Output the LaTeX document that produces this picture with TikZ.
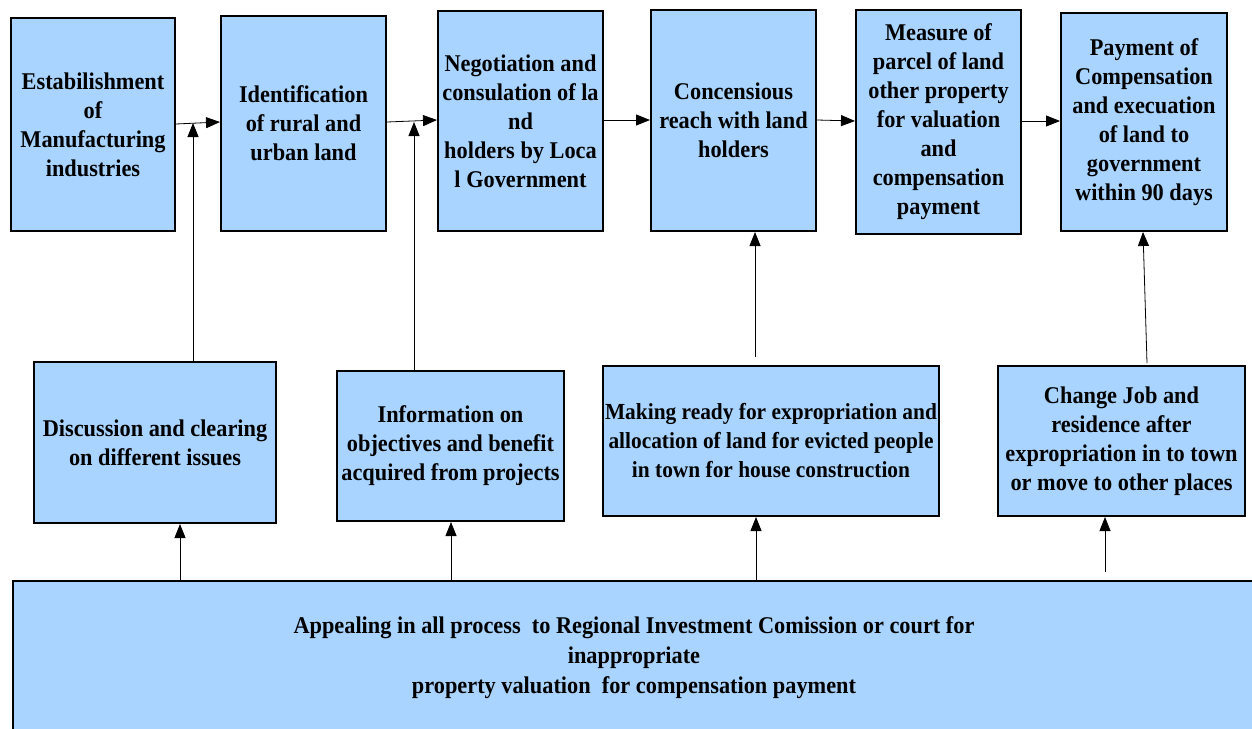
\documentclass[tikz,border=0pt]{standalone}
\usepackage{fontspec}
\setmainfont{Liberation Serif}[FakeStretch=0.93]
\usetikzlibrary{arrows.meta}
\definecolor{boxblue}{RGB}{168,212,255}
\tikzset{
  stage/.style={draw=black,line width=2pt,fill=boxblue,align=center,
    inner sep=0pt,font=\bfseries\fontsize{24}{29}\selectfont,anchor=north west},
  flow/.style={-{Triangle[length=14pt,width=11pt]},line width=0.8pt}
}
\begin{document}
\begin{tikzpicture}[x=1pt,y=-1pt]
\useasboundingbox (0,0) rectangle (1252,728);
% top row
\node[stage,minimum width=164pt,minimum height=213pt] (estab) at (10,17)
  {Estabilishment\\of\\Manufacturing\\industries};
\node[stage,minimum width=165pt,minimum height=215pt] (ident) at (220,15)
  {Identification\\of rural and\\urban land};
\node[stage,minimum width=165pt,minimum height=220pt] (negot) at (437,10)
  {Negotiation and\\consulation of la\\nd\\holders by Loca\\l Government};
\node[stage,minimum width=165pt,minimum height=221pt] (concens) at (650,9)
  {Concensious\\reach with land\\holders};
\node[stage,minimum width=165pt,minimum height=224pt] (measure) at (855,9)
  {Measure of\\parcel of land\\other property\\for valuation\\and\\compensation\\payment};
\node[stage,minimum width=166pt,minimum height=218pt] (pay) at (1060,12)
  {Payment of\\Compensation\\and execuation\\of land to\\government\\within 90 days};
% middle row
\node[stage,minimum width=242pt,minimum height=161pt] (discuss) at (33,361)
  {Discussion and clearing\\on different issues};
\node[stage,minimum width=227pt,minimum height=150pt] (info) at (336,370)
  {Information on\\objectives and benefit\\acquired from projects};
\node[stage,minimum width=336pt,minimum height=150pt,
  font=\bfseries\fontsize{23}{29}\selectfont] (ready) at (602,365)
  {Making ready for expropriation and\\allocation of land for evicted people\\in town for house construction};
\node[stage,minimum width=247pt,minimum height=150pt] (change) at (997,365)
  {Change Job and\\residence after\\expropriation in to town\\or move to other places};
% bottom
\node[stage,minimum width=1250pt,minimum height=160pt] (appeal) at (12,580) {};
\node at (634,658) [font=\bfseries\fontsize{24}{30}\selectfont,align=center]
  {Appealing in all process\ \ to Regional Investment Comission or court for\\inappropriate\\property valuation\ \ for compensation payment};
% flow along the top
\draw[flow] (estab.east |- 0,124) -- (ident.west |- 0,122);
\draw[flow] (ident.east |- 0,122) -- (negot.west |- 0,120);
\draw[flow] (negot.east |- 0,120) -- (concens.west |- 0,120);
\draw[flow] (concens.east |- 0,120) -- (measure.west |- 0,121);
\draw[flow] (measure.east |- 0,121) -- (pay.west |- 0,121);
% side inputs
\coordinate (j1) at (193,123);
\coordinate (j2) at (414,122);
\draw[flow] (discuss.north -| j1) -- (j1);
\draw[flow] (info.north -| j2) -- (j2);
\draw[flow] (755,357) -- (concens.south -| 755,0);
\draw[flow] (1147,363) -- (pay.south -| 1143,0);
% from appeal box
\draw[flow] (appeal.north -| 180,0) -- (discuss.south -| 180,0);
\draw[flow] (appeal.north -| 451,0) -- (info.south -| 451,0);
\draw[flow] (appeal.north -| 756,0) -- (ready.south -| 756,0);
\draw[flow] (1105,572) -- (change.south -| 1105,0);
\end{tikzpicture}
\end{document}
